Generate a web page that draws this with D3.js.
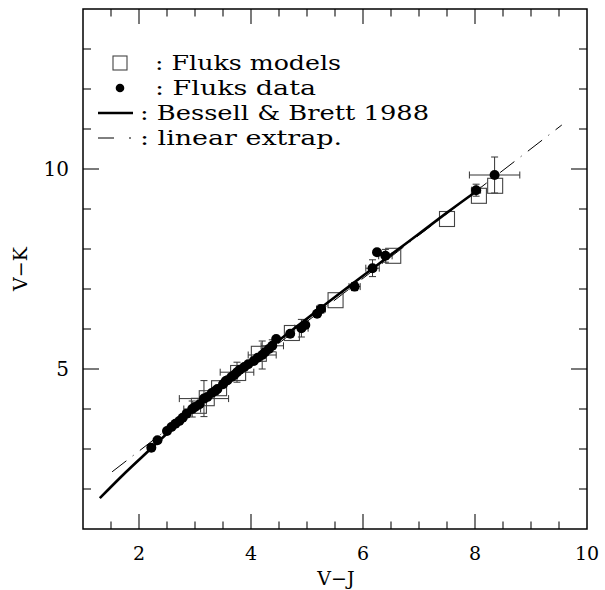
<!DOCTYPE html>
<html>
<head>
<meta charset="utf-8">
<script src="https://cdn.jsdelivr.net/npm/d3@7/dist/d3.min.js"></script>
<style>
html,body{margin:0;padding:0;background:#fff;}
svg{display:block;}
text{font-family:"DejaVu Serif","Liberation Serif",serif;fill:#000;}
</style>
</head>
<body>
<svg id="chart" width="605" height="590"></svg>
<script>
// Bessell & Brett 1988 relation (solid line)
const bbVJ = [1.30, 1.75, 2.23, 2.60, 3.00, 3.50, 4.00, 4.50, 5.00, 5.50, 6.00, 6.50, 7.00, 7.50, 8.05];
const bbVK = [1.77, 2.40, 3.03, 3.52, 4.03, 4.62, 5.18, 5.72, 6.26, 6.80, 7.33, 7.86, 8.38, 8.91, 9.47];
// linear extrapolation (dash-dot line)
const exVJ = [1.52, 9.55];
const exVK = [2.43, 11.10];
// Fluks data (filled circles) with errors
const dataVJ = [2.22, 2.33, 2.50, 2.58, 2.65, 2.72, 2.78, 2.85, 2.95, 3.00, 3.08, 3.16, 3.22, 3.30, 3.36, 3.40, 3.50, 3.55, 3.58, 3.65, 3.70, 3.75, 3.80, 3.88, 3.95, 4.05, 4.12, 4.20, 4.25, 4.32, 4.38, 4.45, 4.70, 4.90, 4.97, 5.18, 5.25, 5.85, 6.17, 6.25, 6.40, 8.02, 8.35];
const dataVK = [3.03, 3.22, 3.45, 3.55, 3.63, 3.70, 3.78, 3.88, 4.00, 4.05, 4.12, 4.26, 4.30, 4.40, 4.45, 4.50, 4.62, 4.70, 4.72, 4.80, 4.85, 4.92, 4.98, 5.05, 5.12, 5.20, 5.28, 5.35, 5.42, 5.50, 5.58, 5.75, 5.88, 6.02, 6.10, 6.38, 6.50, 7.06, 7.52, 7.92, 7.83, 9.47, 9.85];
const errVJ  = [0, 0, 0, 0, 0, 0, 0, 0, 0.15, 0, 0, 0.44, 0, 0, 0, 0, 0, 0, 0, 0, 0, 0.30, 0, 0, 0, 0, 0, 0.25, 0, 0, 0.20, 0, 0, 0.12, 0, 0, 0.08, 0.10, 0.12, 0, 0.12, 0.08, 0.45];
const errVK  = [0, 0, 0, 0, 0, 0, 0, 0, 0.20, 0, 0, 0.45, 0, 0, 0, 0, 0, 0, 0, 0, 0, 0.25, 0, 0, 0, 0, 0, 0.35, 0, 0, 0.15, 0, 0, 0.22, 0, 0, 0.10, 0.10, 0.21, 0, 0.16, 0.15, 0.45];
// Fluks models (open squares)
const modelVJ = [3.07, 3.21, 3.43, 3.77, 4.14, 4.73, 5.51, 6.54, 7.50, 8.07, 8.36];
const modelVK = [4.08, 4.27, 4.52, 4.90, 5.38, 5.90, 6.72, 7.83, 8.75, 9.33, 9.58];
// axes
const xMajor = [2, 4, 6, 8, 10];
const yMajor = [5, 10];
const xDomain = [1, 10];
const yDomain = [1, 14];
const legendLabels = [": Fluks models", ": Fluks data", ": Bessell & Brett 1988", ": linear extrap."];

const svg = d3.select("#chart");
const L = 83, R = 587, T = 9, B = 529;
const x = d3.scaleLinear().domain(xDomain).range([L, R]);
const y = d3.scaleLinear().domain(yDomain).range([B, T]);

const xMinor = d3.range(1.5, 10, 0.5).filter(v => xMajor.indexOf(v) < 0);
const yMinor = d3.range(2, 14, 1).filter(v => yMajor.indexOf(v) < 0);

const g = svg.append("g");
function ticks(vals, len, axis) {
  vals.forEach(v => {
    if (axis === "x") {
      g.append("line").attr("x1", x(v)).attr("x2", x(v)).attr("y1", B).attr("y2", B - len)
        .attr("stroke", "#222").attr("stroke-width", 1.2);
      g.append("line").attr("x1", x(v)).attr("x2", x(v)).attr("y1", T).attr("y2", T + len)
        .attr("stroke", "#222").attr("stroke-width", 1.2);
    } else {
      g.append("line").attr("y1", y(v)).attr("y2", y(v)).attr("x1", L).attr("x2", L + len)
        .attr("stroke", "#222").attr("stroke-width", 1.2);
      g.append("line").attr("y1", y(v)).attr("y2", y(v)).attr("x1", R).attr("x2", R - len)
        .attr("stroke", "#222").attr("stroke-width", 1.2);
    }
  });
}
ticks(xMajor.filter(v => v < 10), 15, "x");
ticks(xMinor, 7.5, "x");
ticks(yMajor, 16, "y");
ticks(yMinor, 8, "y");

g.append("rect").attr("x", L).attr("y", T).attr("width", R - L).attr("height", B - T)
  .attr("fill", "none").attr("stroke", "#000").attr("stroke-width", 1.5);

xMajor.forEach(v => {
  g.append("text").attr("x", x(v)).attr("y", 560).attr("text-anchor", "middle")
    .attr("font-size", 19).text(v);
});
yMajor.forEach(v => {
  g.append("text").attr("x", 69).attr("y", y(v) + 7).attr("text-anchor", "end")
    .attr("font-size", 20).text(v);
});
g.append("text").attr("x", 336).attr("y", 585).attr("text-anchor", "middle")
  .attr("font-size", 19).text("V\u2212J");
g.append("text").attr("transform", "translate(27,269) rotate(-90)").attr("text-anchor", "middle")
  .attr("font-size", 19).text("V\u2212K");

const plot = svg.append("g");
const line = d3.line().x(d => x(d[0])).y(d => y(d[1]));
plot.append("path").datum(d3.zip(exVJ, exVK)).attr("d", line)
  .attr("fill", "none").attr("stroke", "#000").attr("stroke-width", 1)
  .attr("stroke-dasharray", "18,8,1,8");
const cap = 3.5;
dataVJ.forEach((vj, i) => {
  const vk = dataVK[i];
  const ex = errVJ[i], ey = errVK[i];
  if (ex > 0) {
    plot.append("line").attr("x1", x(vj - ex)).attr("x2", x(vj + ex)).attr("y1", y(vk)).attr("y2", y(vk))
      .attr("stroke", "#333").attr("stroke-width", 1);
    [vj - ex, vj + ex].forEach(e => plot.append("line").attr("x1", x(e)).attr("x2", x(e))
      .attr("y1", y(vk) - cap).attr("y2", y(vk) + cap).attr("stroke", "#333").attr("stroke-width", 1));
  }
  if (ey > 0) {
    plot.append("line").attr("x1", x(vj)).attr("x2", x(vj)).attr("y1", y(vk - ey)).attr("y2", y(vk + ey))
      .attr("stroke", "#333").attr("stroke-width", 1);
    [vk - ey, vk + ey].forEach(e => plot.append("line").attr("y1", y(e)).attr("y2", y(e))
      .attr("x1", x(vj) - cap).attr("x2", x(vj) + cap).attr("stroke", "#333").attr("stroke-width", 1));
  }
});
const sq = 15;
modelVJ.forEach((vj, i) => {
  plot.append("rect").attr("x", x(vj) - sq / 2).attr("y", y(modelVK[i]) - sq / 2)
    .attr("width", sq).attr("height", sq).attr("fill", "none")
    .attr("stroke", "#444").attr("stroke-width", 1.1);
});
plot.append("path").datum(d3.zip(bbVJ, bbVK)).attr("d", line.curve(d3.curveMonotoneX))
  .attr("fill", "none").attr("stroke", "#000").attr("stroke-width", 2.6);
dataVJ.forEach((vj, i) => {
  plot.append("circle").attr("cx", x(vj)).attr("cy", y(dataVK[i])).attr("r", 5).attr("fill", "#000");
});

const lg = svg.append("g");
const rowY = [63, 88, 113, 138];
lg.append("rect").attr("x", 113).attr("y", rowY[0] - 7).attr("width", 14).attr("height", 14)
  .attr("fill", "none").attr("stroke", "#444").attr("stroke-width", 1.1);
lg.append("circle").attr("cx", 120).attr("cy", rowY[1]).attr("r", 4.3).attr("fill", "#000");
lg.append("line").attr("x1", 98).attr("x2", 133).attr("y1", rowY[2]).attr("y2", rowY[2])
  .attr("stroke", "#000").attr("stroke-width", 2.6);
lg.append("line").attr("x1", 98).attr("x2", 114).attr("y1", rowY[3]).attr("y2", rowY[3])
  .attr("stroke", "#000").attr("stroke-width", 1);
lg.append("line").attr("x1", 129).attr("x2", 131).attr("y1", rowY[3]).attr("y2", rowY[3])
  .attr("stroke", "#000").attr("stroke-width", 1);
const textX = [155, 155, 140, 140];
const textW = [186, 161, 289, 202];
legendLabels.forEach((t, i) => {
  lg.append("text").attr("x", textX[i]).attr("y", rowY[i] + 7).attr("font-size", 20)
    .attr("textLength", textW[i]).attr("lengthAdjust", "spacingAndGlyphs").text(t);
});
</script>
</body>
</html>
